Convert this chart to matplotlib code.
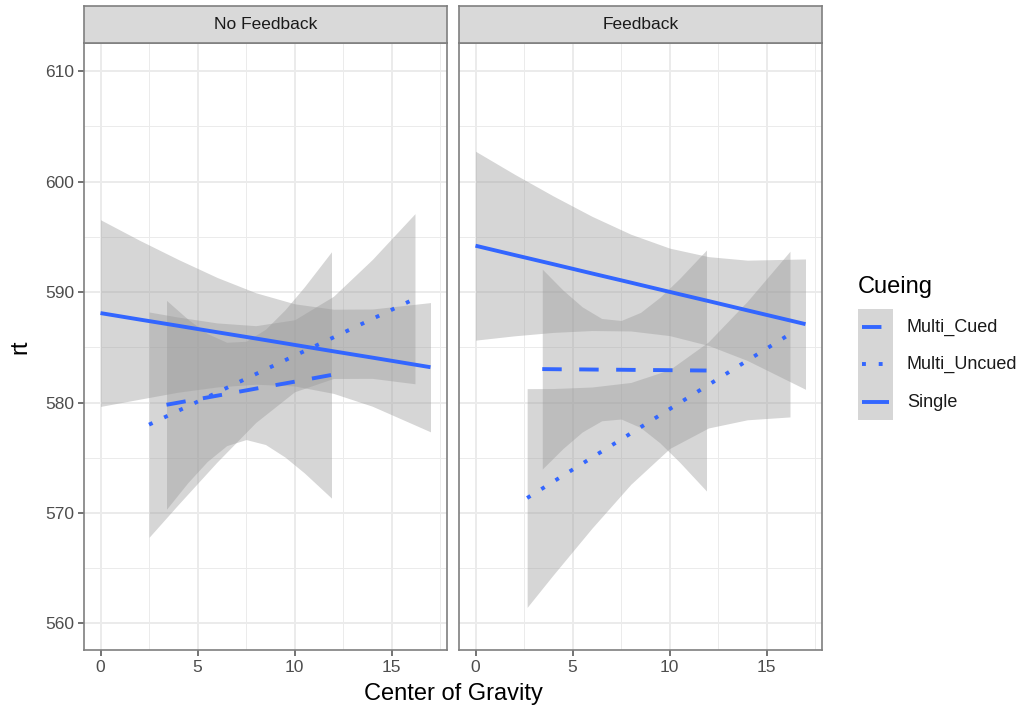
import numpy as np
import matplotlib
matplotlib.use("Agg")
import matplotlib.pyplot as plt

plt.rcParams['font.family'] = ['Liberation Sans', 'DejaVu Sans']

# ---- data (lm fits with 95% bands) ----
panels = ["No Feedback", "Feedback"]
groups = ["Multi_Cued", "Multi_Uncued", "Single"]

# No Feedback
nf_single_x = [0, 2, 4, 6, 8, 10, 12, 14, 17]
nf_single_fit = [588.1, 587.52, 586.95, 586.37, 585.8, 585.22, 584.64, 584.07, 583.2]
nf_single_lo = [579.65, 580.3, 580.94, 581.41, 581.66, 581.5, 580.83, 579.67, 577.35]
nf_single_hi = [596.55, 594.7, 592.96, 591.33, 589.94, 588.94, 588.45, 588.47, 589.05]

nf_uncued_x = [2.5, 4, 6, 8, 10, 12, 14, 16.2]
nf_uncued_fit = [578.0, 579.25, 580.91, 582.58, 584.24, 585.9, 587.57, 589.4]
nf_uncued_lo = [567.8, 570.76, 574.61, 578.2, 580.98, 582.18, 582.19, 581.7]
nf_uncued_hi = [588.2, 587.74, 587.21, 586.96, 587.5, 589.62, 592.95, 597.1]

nf_cued_x = [3.4, 4.5, 5.5, 6.5, 7.5, 8.5, 9.5, 10.5, 11.9]
nf_cued_fit = [579.8, 580.15, 580.46, 580.78, 581.1, 581.42, 581.73, 582.05, 582.5]
nf_cued_lo = [570.35, 572.75, 574.67, 576.1, 576.65, 576.2, 575.07, 573.63, 571.35]
nf_cued_hi = [589.25, 587.55, 586.25, 585.46, 585.55, 586.64, 588.39, 590.47, 593.65]

# Feedback
fb_single_x = [0, 2, 4, 6, 8, 10, 12, 14, 17]
fb_single_fit = [594.2, 593.36, 592.53, 591.69, 590.86, 590.02, 589.19, 588.35, 587.1]
fb_single_lo = [585.65, 586.04, 586.35, 586.52, 586.48, 586.06, 585.17, 583.81, 581.2]
fb_single_hi = [602.75, 600.68, 598.71, 596.86, 595.24, 593.98, 593.21, 592.89, 593.0]

fb_uncued_x = [2.66, 4, 6, 8, 10, 12, 14, 16.2]
fb_uncued_fit = [571.36, 572.83, 575.02, 577.21, 579.41, 581.6, 583.8, 586.2]
fb_uncued_lo = [561.46, 564.39, 568.63, 572.6, 575.84, 577.7, 578.44, 578.7]
fb_uncued_hi = [581.26, 581.27, 581.41, 581.82, 582.98, 585.5, 589.16, 593.7]

fb_cued_x = [3.44, 4.5, 5.5, 6.5, 7.5, 8.5, 9.5, 10.5, 11.9]
fb_cued_fit = [583.03, 583.01, 583.0, 582.98, 582.97, 582.95, 582.94, 582.92, 582.9]
fb_cued_lo = [573.98, 575.83, 577.34, 578.35, 578.51, 577.74, 576.35, 574.63, 571.99]
fb_cued_hi = [592.08, 590.19, 588.66, 587.61, 587.43, 588.16, 589.53, 591.21, 593.81]

x_ticks = [0, 5, 10, 15]
y_ticks = [560, 570, 580, 590, 600, 610]

line_col = "#3366FF"
band_col = "#999999"
border_col = "#7F7F7F"
lw = 2.8
styles = {"Multi_Cued": (0, (5, 4.5)), "Multi_Uncued": (0, (1, 3.3)), "Single": "-"}

panel_data = [
    {"Multi_Cued": (nf_cued_x, nf_cued_fit, nf_cued_lo, nf_cued_hi),
     "Multi_Uncued": (nf_uncued_x, nf_uncued_fit, nf_uncued_lo, nf_uncued_hi),
     "Single": (nf_single_x, nf_single_fit, nf_single_lo, nf_single_hi)},
    {"Multi_Cued": (fb_cued_x, fb_cued_fit, fb_cued_lo, fb_cued_hi),
     "Multi_Uncued": (fb_uncued_x, fb_uncued_fit, fb_uncued_lo, fb_uncued_hi),
     "Single": (fb_single_x, fb_single_fit, fb_single_lo, fb_single_hi)},
]

W, H = 1027, 708
fig = plt.figure(figsize=(W / 100, H / 100), dpi=100)

def fx(px):
    return px / W

def fy(py):
    return 1 - py / H

panel_left = [84, 459]
panel_w = 363
top, bottom = 43, 650
strip_top = 6

for i, name in enumerate(panels):
    ax = fig.add_axes([fx(panel_left[i]), fy(bottom), panel_w / W, (bottom - top) / H])
    ax.set_xlim(-0.85, 17.85)
    ax.set_ylim(557.6, 612.55)
    ax.set_facecolor("white")
    # grid
    for v in np.arange(2.5, 17.6, 5):
        ax.axvline(v, color="#EBEBEB", lw=0.7, zorder=0)
    for v in np.arange(565, 611, 10):
        ax.axhline(v, color="#EBEBEB", lw=0.7, zorder=0)
    for v in x_ticks:
        ax.axvline(v, color="#EBEBEB", lw=1.4, zorder=0)
    for v in y_ticks:
        ax.axhline(v, color="#EBEBEB", lw=1.4, zorder=0)

    for g in groups:
        xs, fit, lo, hi = panel_data[i][g]
        ax.fill_between(xs, lo, hi, color=band_col, alpha=0.4, lw=0, zorder=2)
    for g in groups:
        xs, fit, lo, hi = panel_data[i][g]
        ax.plot(xs, fit, color=line_col, lw=lw, linestyle=styles[g],
                solid_capstyle="butt", dash_capstyle="butt", zorder=3)

    for sp in ax.spines.values():
        sp.set_color(border_col)
        sp.set_linewidth(1.2)
    ax.set_xticks(x_ticks)
    ax.set_yticks(y_ticks)
    ax.tick_params(colors="#4D4D4D", labelcolor="#4D4D4D", labelsize=12.5,
                   length=4, width=1.1, pad=3)
    if i == 1:
        ax.tick_params(axis="y", left=False, labelleft=False)

    # strip
    sax = fig.add_axes([fx(panel_left[i]), fy(top), panel_w / W, (top - strip_top) / H])
    sax.set_facecolor("#D9D9D9")
    sax.set_xticks([])
    sax.set_yticks([])
    for sp in sax.spines.values():
        sp.set_color(border_col)
        sp.set_linewidth(1.2)
    sax.text(0.5, 0.5, name, ha="center", va="center", fontsize=12.5, color="#1A1A1A",
             transform=sax.transAxes)

fig.text(fx(453), fy(694), "Center of Gravity", ha="center", va="center", fontsize=17)
fig.text(fx(20), fy(347), "rt", ha="center", va="center", fontsize=17, rotation=90)

# legend
fig.text(fx(858), fy(287), "Cueing", ha="left", va="center", fontsize=17)
key_y = [327, 364, 402]
kbg = fig.add_axes([fx(858), fy(420), 35 / W, 111 / H])
kbg.set_xlim(0, 1)
kbg.set_ylim(420, 309)
kbg.axis("off")
kbg.add_patch(plt.Rectangle((0, 309), 1, 111, color=band_col, alpha=0.4, lw=0))
for g, ky in zip(groups, key_y):
    kbg.plot([0.12, 0.88], [ky, ky], color=line_col, lw=lw, linestyle=styles[g],
             solid_capstyle="butt", dash_capstyle="butt")
    fig.text(fx(907), fy(ky), g, ha="left", va="center", fontsize=13, color="#1A1A1A")

fig.savefig("out.png", dpi=100)
